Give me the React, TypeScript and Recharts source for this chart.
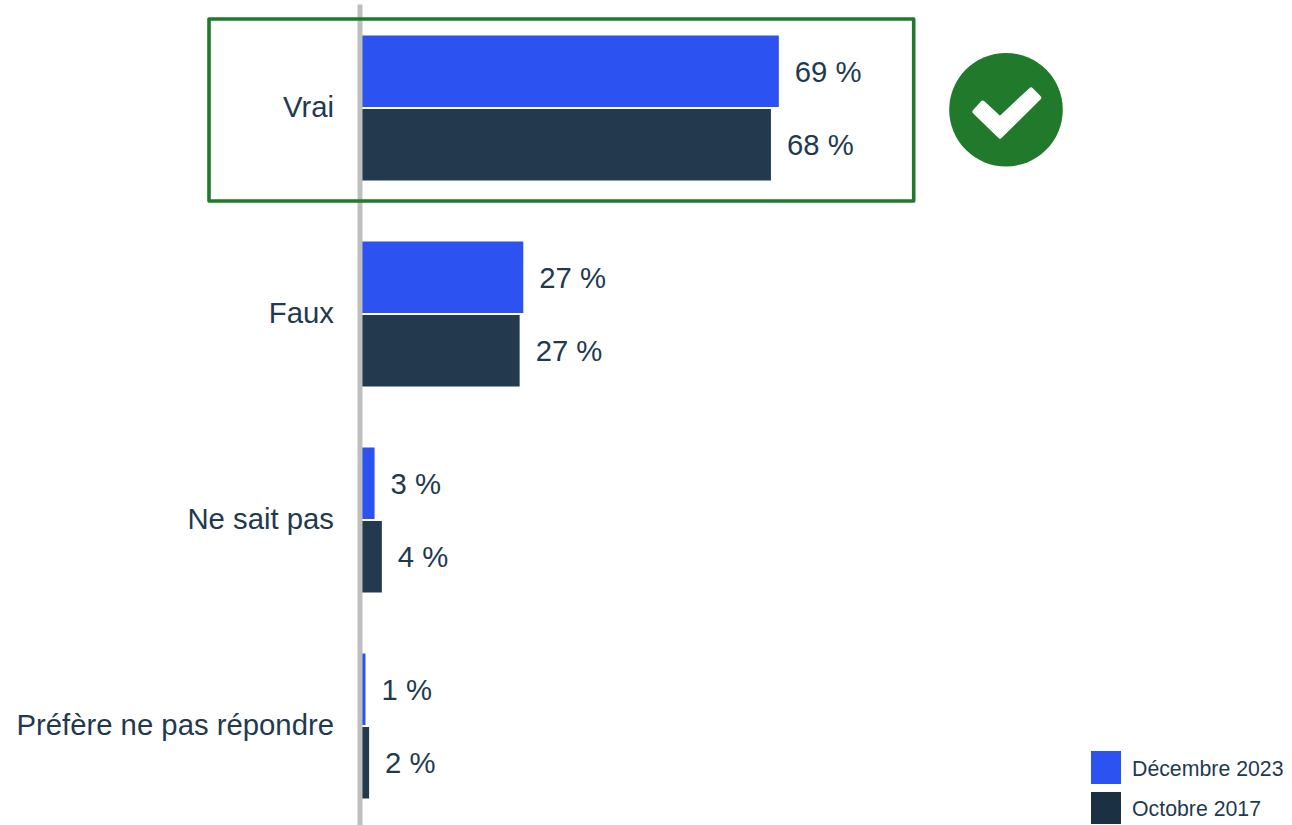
import React from "react";
import { BarChart, Bar, XAxis, YAxis, LabelList, Legend } from "recharts";

const categories = ["Vrai", "Faux", "Ne sait pas", "Préfère ne pas répondre"];
const december2023 = [69, 26.9, 2.4, 0.9];
const october2017 = [67.7, 26.3, 3.6, 1.5];
const december2023Labels = ["69 %", "27 %", "3 %", "1 %"];
const october2017Labels = ["68 %", "27 %", "4 %", "2 %"];

const BLUE = "#2d52f2";
const NAVY = "#22394e";
const LEGEND_NAVY = "#1b3042";
const TEXT = "#1f3a50";
const GREEN = "#21792b";
const FONT = "'Liberation Sans', Arial, sans-serif";

const rows = categories.map((name, i) => ({
  name,
  dec: december2023[i],
  oct: october2017[i],
  decLabel: december2023Labels[i],
  octLabel: october2017Labels[i],
}));

const LegendBox = ({ payload }: any) => (
  <div style={{ fontFamily: FONT, fontSize: 21.3, color: TEXT }}>
    {(payload || []).map((p: any, i: number) => (
      <div key={i} style={{ display: "flex", alignItems: "center", height: 32.5, marginBottom: i === 0 ? 8 : 0 }}>
        <span style={{ width: 29.5, height: 32.5, background: i === 1 ? LEGEND_NAVY : p.color, marginRight: 11.5, display: "inline-block" }} />
        <span style={{ whiteSpace: "nowrap", position: "relative", top: 2 }}>{p.value}</span>
      </div>
    ))}
  </div>
);

export default function App() {
  return (
    <div style={{ position: "absolute", left: 0, top: 0, width: 1292, height: 825, overflow: "hidden", background: "#fff" }}>
      <BarChart
        width={1292}
        height={835}
        data={rows}
        layout="vertical"
        margin={{ top: 4.5, right: 325, bottom: 6.5, left: 0 }}
        barSize={71.5}
        barGap={2}
      >
        <XAxis type="number" domain={[0, 100]} hide />
        <Bar dataKey="dec" name="Décembre 2023" fill={BLUE} isAnimationActive={false}>
          <LabelList dataKey="decLabel" position="right" offset={16} fill={TEXT} fontSize={29.3} fontFamily={FONT} />
        </Bar>
        <Bar dataKey="oct" name="Octobre 2017" fill={NAVY} isAnimationActive={false}>
          <LabelList dataKey="octLabel" position="right" offset={16} fill={TEXT} fontSize={29.3} fontFamily={FONT} />
        </Bar>
        <YAxis
          type="category"
          dataKey="name"
          width={360}
          tickLine={false}
          tickSize={0}
          tickMargin={26}
          axisLine={{ stroke: "#bfbfbf", strokeWidth: 5 }}
          tick={{ fill: TEXT, fontSize: 29.3, fontFamily: FONT, dy: -1 }}
          interval={0}
        />
        <Legend
          content={<LegendBox />}
          layout="vertical"
          align="center"
          verticalAlign="middle"
          wrapperStyle={{ position: "absolute", left: 1091, top: 751, width: 201 }}
        />
      </BarChart>
      <svg width={1292} height={825} style={{ position: "absolute", left: 0, top: 0, pointerEvents: "none" }}>
        <rect x={209} y={19} width={704.7} height={182} fill="none" stroke={GREEN} strokeWidth={3.6} strokeLinejoin="round" />
        <circle cx={1006} cy={109.7} r={56.8} fill={GREEN} />
        <polygon
          points="975,111.7 982.7,103.2 1000,119 1031,90 1038.7,97.7 1000,136"
          fill="#fff"
          stroke="#fff"
          strokeWidth={5}
          strokeLinejoin="round"
        />
      </svg>
    </div>
  );
}
